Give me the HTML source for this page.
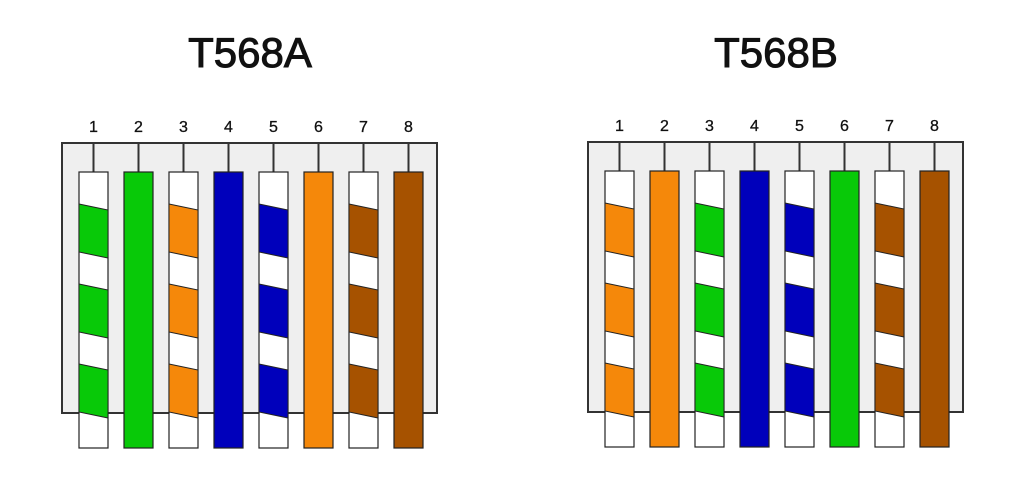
<!DOCTYPE html>
<html><head><meta charset="utf-8"><style>html,body{margin:0;padding:0;background:#fff}svg{display:block}</style></head>
<body>
<svg width="1024" height="483" viewBox="0 0 1024 483" xmlns="http://www.w3.org/2000/svg">
<defs>
<g id="st" stroke="#222" stroke-width="1">
<polygon points="0,32 29,38 29,86 0,80"/>
<polygon points="0,112 29,118 29,166 0,160"/>
<polygon points="0,192 29,198 29,246 0,240"/>
</g>
<g id="w"><rect x="0" y="0" width="29" height="276" fill="#fff" stroke="#222" stroke-width="1.2"/></g>
<g id="conn" stroke="#333" stroke-width="2">
<line x1="14.5" y1="-29" x2="14.5" y2="0"/>
</g>
</defs>
<g font-family="Liberation Sans, sans-serif" fill="#111" stroke="#111" stroke-width="1">
<text x="250" y="67" font-size="42" text-anchor="middle">T568A</text>
<text x="776" y="67" font-size="42" text-anchor="middle">T568B</text>
</g>
<rect x="62" y="143" width="375" height="270" fill="#efefef" stroke="#333" stroke-width="2"/>
<g font-family="Liberation Sans, sans-serif" font-size="16" text-anchor="middle" fill="#111" stroke="#111" stroke-width="0.3">
<text x="93.5" y="132">1</text><text x="138.5" y="132">2</text><text x="183.5" y="132">3</text><text x="228.5" y="132">4</text><text x="273.5" y="132">5</text><text x="318.5" y="132">6</text><text x="363.5" y="132">7</text><text x="408.5" y="132">8</text>
<text x="619.5" y="131">1</text><text x="664.5" y="131">2</text><text x="709.5" y="131">3</text><text x="754.5" y="131">4</text><text x="799.5" y="131">5</text><text x="844.5" y="131">6</text><text x="889.5" y="131">7</text><text x="934.5" y="131">8</text>
</g>
<g transform="translate(0,172)">
<g transform="translate(79,0)"><use href="#conn"/><use href="#w"/><use href="#st" fill="#08c908"/></g>
<g transform="translate(124,0)"><use href="#conn"/><rect width="29" height="276" fill="#08c908" stroke="#222" stroke-width="1.2"/></g>
<g transform="translate(169,0)"><use href="#conn"/><use href="#w"/><use href="#st" fill="#f5880a"/></g>
<g transform="translate(214,0)"><use href="#conn"/><rect width="29" height="276" fill="#0000bb" stroke="#222" stroke-width="1.2"/></g>
<g transform="translate(259,0)"><use href="#conn"/><use href="#w"/><use href="#st" fill="#0000bb"/></g>
<g transform="translate(304,0)"><use href="#conn"/><rect width="29" height="276" fill="#f5880a" stroke="#222" stroke-width="1.2"/></g>
<g transform="translate(349,0)"><use href="#conn"/><use href="#w"/><use href="#st" fill="#a65200"/></g>
<g transform="translate(394,0)"><use href="#conn"/><rect width="29" height="276" fill="#a65200" stroke="#222" stroke-width="1.2"/></g>
</g>
<rect x="588" y="142" width="375" height="270" fill="#efefef" stroke="#333" stroke-width="2"/>
<g transform="translate(0,171)">
<g transform="translate(605,0)"><use href="#conn"/><use href="#w"/><use href="#st" fill="#f5880a"/></g>
<g transform="translate(650,0)"><use href="#conn"/><rect width="29" height="276" fill="#f5880a" stroke="#222" stroke-width="1.2"/></g>
<g transform="translate(695,0)"><use href="#conn"/><use href="#w"/><use href="#st" fill="#08c908"/></g>
<g transform="translate(740,0)"><use href="#conn"/><rect width="29" height="276" fill="#0000bb" stroke="#222" stroke-width="1.2"/></g>
<g transform="translate(785,0)"><use href="#conn"/><use href="#w"/><use href="#st" fill="#0000bb"/></g>
<g transform="translate(830,0)"><use href="#conn"/><rect width="29" height="276" fill="#08c908" stroke="#222" stroke-width="1.2"/></g>
<g transform="translate(875,0)"><use href="#conn"/><use href="#w"/><use href="#st" fill="#a65200"/></g>
<g transform="translate(920,0)"><use href="#conn"/><rect width="29" height="276" fill="#a65200" stroke="#222" stroke-width="1.2"/></g>
</g>
</svg>
</body></html>
